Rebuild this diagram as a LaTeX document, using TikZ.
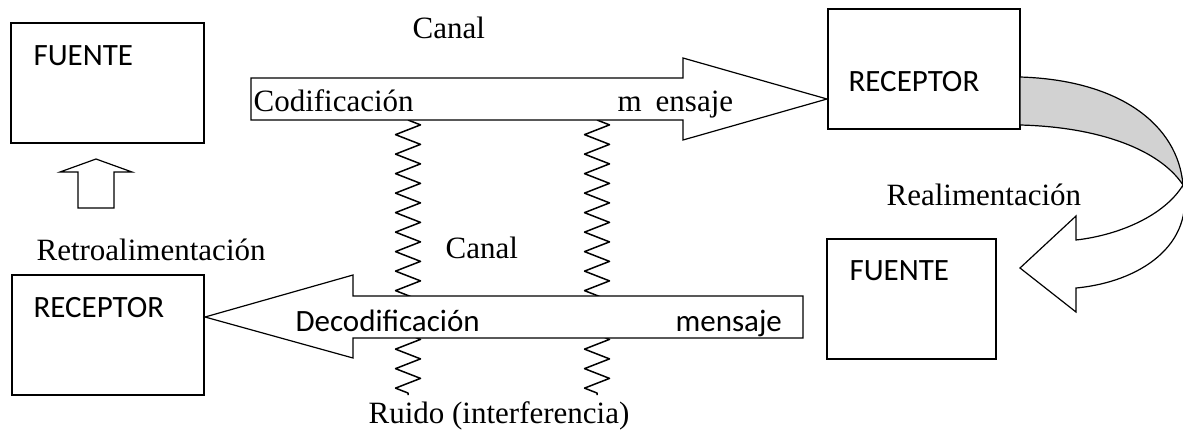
\documentclass[tikz,border=0pt]{standalone}
\usepackage{fontspec}
\setmainfont{Liberation Serif}
\newfontfamily\calib{Carlito}
\usetikzlibrary{decorations.pathmorphing}
\begin{document}
\begin{tikzpicture}[x=1pt,y=-1pt,line width=1.2pt,line join=miter,
    caja/.style={draw,rectangle,minimum height=120pt,inner sep=0pt},
    rom/.style={anchor=base west,inner sep=0pt,font=\fontsize{31}{36}\selectfont},
    sans/.style={anchor=base west,inner sep=0pt,font=\calib\fontsize{31}{36}\selectfont},
    resorte/.style={decorate,decoration={zigzag,segment length=19.5pt,amplitude=12.5pt},line join=round,line width=1.5pt},
    flecha/.style={draw,fill=white}]
\useasboundingbox (0,0) rectangle (1183,432);
\node[caja,minimum width=193pt] (fuente1) at (107.5,83) {};
\node[caja,minimum width=192pt] (receptor1) at (924,69) {};
\node[caja,minimum width=192pt] (receptor2) at (108,335) {};
\node[caja,minimum width=169pt] (fuente2) at (911.5,299) {};
\node[sans] (tf1) at (33,65) {FUENTE};
\node[sans] (tr1) at (848,91) {RECEPTOR};
\node[sans] (tr2) at (33,317) {RECEPTOR};
\node[sans] (tf2) at (849,280) {FUENTE};
\coordinate (r1a) at (408,120); \coordinate (r1b) at (408,395);
\coordinate (r2a) at (597,120); \coordinate (r2b) at (597,395);
\draw[resorte] (r1a) -- (r1b);
\draw[resorte] (r2a) -- (r2b);
\draw[flecha] (251,78) -- (683,78) -- (683,58) -- (827,99) -- (683,140) -- (683,120) -- (251,120) -- cycle;
\draw[flecha] (803,296) -- (353,296) -- (353,275) -- (205,317) -- (353,358) -- (353,338) -- (803,338) -- cycle;
\draw[flecha] (78,208) -- (78,172) -- (60,172) -- (96,159) -- (132,172) -- (114,172) -- (114,208) -- cycle;
\draw[fill=gray!35] (1020,77) .. controls (1120,80) and (1178,125) .. (1183,185)
    .. controls (1160,150) and (1100,127) .. (1020,125) -- cycle;
\draw[flecha] (1183,185) .. controls (1165,215) and (1120,235) .. (1076,240) -- (1076,216) -- (1020,268)
    -- (1076,312) -- (1076,288) .. controls (1140,282) and (1195,245) .. (1183,185);
\node[rom] (canal1) at (412,38) {Canal};
\node[rom] (codif) at (253,111) {Codificación};
\node[rom] (mens1) at (617,111) {m\hspace{14pt}ensaje};
\node[rom] (realim) at (886,205) {Realimentación};
\node[rom] (retro) at (36,260) {Retroalimentación};
\node[rom] (canal2) at (445,258) {Canal};
\node[sans] (decod) at (295,331) {Decodificación};
\node[sans] (mens2) at (675,331) {mensaje};
\node[rom] (ruido) at (368,423) {Ruido (interferencia)};
\end{tikzpicture}
\end{document}
